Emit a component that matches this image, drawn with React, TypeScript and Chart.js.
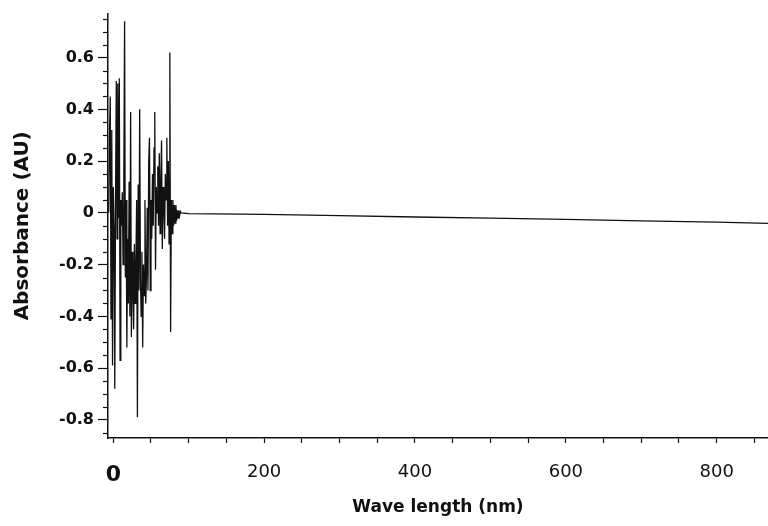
import { useEffect, useRef } from "react";
import { Chart, registerables } from "chart.js";

Chart.register(...registerables);

// Wavelength (nm) of each sample
const wavelengths: number[] = [
  -6, -5, -4, -3, -2, -1, 0, 1, 2, 3, 4, 5, 6, 7, 8, 9, 10, 11, 12, 13, 14,
  15, 16, 17, 18, 19, 20, 21, 22, 23, 24, 25, 26, 27, 28, 29, 30, 31, 32, 33,
  34, 35, 36, 37, 38, 39, 40, 41, 42, 43, 44, 45, 46, 47, 48, 49, 50, 51, 52,
  53, 54, 55, 56, 57, 58, 59, 60, 61, 62, 63, 64, 65, 66, 67, 68, 69, 70, 71,
  72, 73, 74, 75, 76, 77, 78, 79, 80, 81, 82, 83, 84, 85, 86, 87, 88, 89, 90,
  100, 200, 300, 400, 500, 600, 700, 800, 868,
];

// Absorbance (AU) of each sample
const absorbance: number[] = [
  0.0, 0.3, 0.45, -0.41, 0.32, -0.59, 0.1, -0.05, -0.68, 0.05, 0.51, -0.1,
  0.5, -0.02, 0.52, -0.57, 0.05, -0.05, 0.08, -0.2, 0.15, 0.74, -0.25, 0.05,
  -0.52, -0.1, -0.35, 0.12, -0.4, 0.39, -0.48, -0.15, -0.3, -0.45, -0.12,
  -0.35, -0.2, 0.05, -0.79, 0.11, -0.3, 0.4, -0.25, -0.4, -0.15, -0.52, -0.2,
  -0.32, 0.05, -0.35, -0.25, 0.02, -0.3, 0.2, 0.29, -0.3, 0.05, -0.1, 0.15,
  -0.05, 0.25, 0.39, -0.22, 0.1, 0.0, 0.18, -0.05, 0.23, -0.08, 0.12, 0.28,
  -0.14, 0.1, 0.02, -0.1, 0.15, 0.05, 0.29, -0.05, 0.2, -0.12, 0.62, -0.46,
  0.05, -0.08, 0.05, -0.05, 0.03, -0.04, 0.03, -0.03, 0.01, -0.02, 0.01,
  -0.01, 0.005, 0.0,
  -0.003, -0.006, -0.011, -0.016, -0.02, -0.025, -0.031, -0.036, -0.041,
];

const xTickLabels: number[] = [0, 200, 400, 600, 800];
const yTickLabels: number[] = [-0.8, -0.6, -0.4, -0.2, 0, 0.2, 0.4, 0.6];

const X_MIN = -7;
const X_MAX = 868;
const X_STEP = 50;
const Y_MIN = -0.87;
const Y_MAX = 0.77;
const Y_STEP = 0.05;

const xTitle = "Wave length (nm)";
const yTitle = "Absorbance (AU)";

const isYMajor = (v: number) =>
  yTickLabels.some((t) => Math.abs(t - v) < 1e-6);
const isXLabel = (v: number) =>
  xTickLabels.some((t) => Math.abs(t - v) < 1e-6);

export default function App() {
  const ref = useRef<HTMLCanvasElement>(null);

  useEffect(() => {
    if (!ref.current) return;

    const minorTicks = {
      id: "minorTicks",
      afterDraw(chart: any) {
        const y = chart.scales.y;
        const ctx = chart.ctx;
        const left = chart.chartArea.left;
        ctx.save();
        ctx.strokeStyle = "#111";
        ctx.lineWidth = 1.2;
        y.ticks.forEach((t: any) => {
          if (isYMajor(t.value)) return;
          const py = Math.round(y.getPixelForValue(t.value)) + 0.5;
          ctx.beginPath();
          ctx.moveTo(left - 5, py);
          ctx.lineTo(left, py);
          ctx.stroke();
        });
        ctx.restore();
      },
    };

    const chart = new Chart(ref.current, {
      type: "line",
      data: {
        datasets: [
          {
            data: wavelengths.map((x, i) => ({ x, y: absorbance[i] })),
            borderColor: "#111",
            borderWidth: 1.3,
            pointRadius: 0,
            tension: 0,
            fill: false,
          },
        ],
      },
      options: {
        responsive: false,
        animation: false,
        layout: { padding: { top: 8, right: 0, left: 0, bottom: 0 } },
        plugins: {
          legend: { display: false },
          tooltip: { enabled: false },
        },
        scales: {
          x: {
            type: "linear",
            min: X_MIN,
            max: X_MAX,
            afterBuildTicks: (s: any) => {
              const ticks = [];
              for (let v = 0; v <= X_MAX; v += X_STEP) ticks.push({ value: v });
              s.ticks = ticks;
            },
            afterFit: (s: any) => {
              s.height = 88;
              s.paddingRight = 0;
              s.paddingLeft = 0;
            },
            grid: {
              drawOnChartArea: false,
              drawTicks: true,
              tickLength: 5,
              tickColor: "#111",
              tickWidth: 1.2,
            },
            border: { display: true, color: "#111", width: 1.5 },
            ticks: {
              autoSkip: false,
              maxRotation: 0,
              padding: 19,
              color: "#111",
              font: (ctx: any) =>
                ctx.tick && ctx.tick.value === 0
                  ? { family: "'DejaVu Sans'", size: 22, weight: "bold" }
                  : { family: "'DejaVu Sans'", size: 18, weight: "normal" },
              callback: (v: any) => (isXLabel(Number(v)) ? String(v) : ""),
            },
            title: {
              display: true,
              text: xTitle,
              color: "#111",
              font: { family: "'DejaVu Sans'", size: 17, weight: "bold" },
              padding: { top: 0, bottom: 8 },
            },
          },
          y: {
            type: "linear",
            min: Y_MIN,
            max: Y_MAX,
            afterBuildTicks: (s: any) => {
              const ticks = [];
              for (let k = -17; k <= 15; k++)
                ticks.push({ value: Math.round(k * Y_STEP * 100) / 100 });
              s.ticks = ticks;
            },
            afterFit: (s: any) => {
              s.width = 108;
            },
            grid: {
              drawOnChartArea: false,
              drawTicks: true,
              tickLength: 10,
              tickWidth: 1.2,
              tickColor: (ctx: any) =>
                ctx.tick && isYMajor(ctx.tick.value)
                  ? "#111"
                  : "rgba(0,0,0,0)",
            },
            border: { display: true, color: "#111", width: 1.5 },
            ticks: {
              autoSkip: false,
              padding: 4,
              color: "#111",
              font: { family: "'DejaVu Sans'", size: 16, weight: "bold" },
              callback: (v: any) => {
                const n = Number(v);
                if (!isYMajor(n)) return "";
                return Math.abs(n) < 1e-9 ? "0" : n.toFixed(1);
              },
            },
            title: {
              display: true,
              text: yTitle,
              color: "#111",
              font: { family: "'DejaVu Sans'", size: 20, weight: "bold" },
              padding: { top: 11, bottom: 0 },
            },
          },
        },
      },
      plugins: [minorTicks],
    } as any);

    return () => chart.destroy();
  }, []);

  return (
    <div
      style={{
        position: "fixed",
        left: 0,
        top: 0,
        width: 768,
        height: 526,
        background: "#fff",
      }}
    >
      <canvas
        ref={ref}
        width={768}
        height={526}
        style={{ width: 768, height: 526, display: "block" }}
      />
    </div>
  );
}
